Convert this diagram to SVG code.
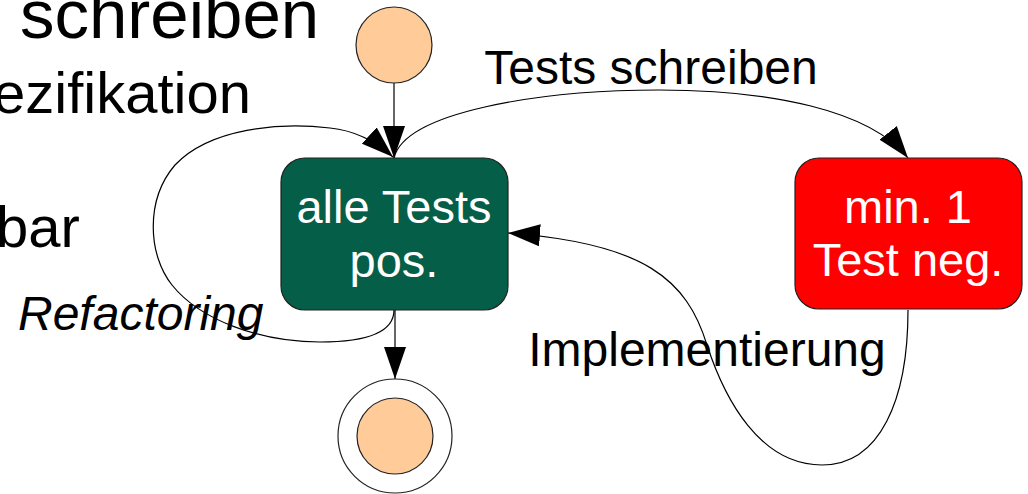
<svg xmlns="http://www.w3.org/2000/svg" width="1028" height="494" viewBox="0 0 1028 494">
  <style>
    .bg { font-family: "Liberation Sans", Arial, sans-serif; fill: #000; }
    .lbl { font-family: "Liberation Sans", Arial, sans-serif; font-size: 48px; fill: #000; }
    .state-text { font-family: "Liberation Sans", Arial, sans-serif; font-size: 47px; fill: #fff; text-anchor: middle; }
    .edge { fill: none; stroke: #000; stroke-width: 1.2; }
    .state { stroke: #222; stroke-width: 1.2; }
    .pseudo { fill: #ffcc99; stroke: #222; stroke-width: 1.2; }
  </style>
  <defs>
    <marker id="arrow" viewBox="0 0 32 22" refX="32" refY="11" markerWidth="32" markerHeight="22" markerUnits="userSpaceOnUse" orient="auto">
      <path d="M0,0 L32,11 L0,22 Z" fill="#000"/>
    </marker>
  </defs>

  <rect width="1028" height="494" fill="#fff"/>

  <!-- slide text behind the state chart -->
  <g id="slide-text" class="bg">
    <text x="20" y="38" font-size="69">schreiben</text>
    <text x="251" y="113" font-size="58" text-anchor="end">ezifikation</text>
    <text x="-4" y="247" font-size="58">bar</text>
  </g>

  <!-- transitions -->
  <g id="connectors">
    <path class="edge" d="M394,83 L394,158" marker-end="url(#arrow)" stroke="#444"/>
    <path class="edge" d="M395,310 L395,379" marker-end="url(#arrow)"/>
    <path class="edge" d="M394,310 C394,335 360,342 320,342 C260,342 200,320 172,285 C148,255 145,200 175,165 C210,128 280,122 330,128 C350,130 372,138 393,157" marker-end="url(#arrow)"/>
    <path class="edge" d="M394,158 C405,112 540,90 659,90 C770,90 870,110 908,158" marker-end="url(#arrow)"/>
    <path class="edge" d="M908,310 C908,400 880,465 822,465 C760,465 725,400 707,345 C687,280 645,243 508,233" marker-end="url(#arrow)"/>
    <text class="lbl" x="651" y="84" text-anchor="middle">Tests schreiben</text>
    <text class="lbl" x="707" y="366" text-anchor="middle">Implementierung</text>
    <text class="lbl" x="18" y="330" font-style="italic">Refactoring</text>
  </g>

  <!-- initial pseudo-state -->
  <g id="start">
    <circle class="pseudo" cx="394" cy="45" r="38"/>
  </g>

  <!-- all tests passing -->
  <g id="green">
    <rect class="state" x="281" y="158" width="227" height="152" rx="24" fill="#045e48"/>
    <text class="state-text" x="394" y="223">alle Tests</text>
    <text class="state-text" x="394" y="277">pos.</text>
  </g>

  <!-- at least one failing test -->
  <g id="red">
    <rect class="state" x="795" y="158" width="227" height="151" rx="24" fill="#ff0000"/>
    <text class="state-text" x="908" y="223">min. 1</text>
    <text class="state-text" x="908" y="276">Test neg.</text>
  </g>

  <!-- final pseudo-state -->
  <g id="end">
    <circle cx="395" cy="436" r="57" fill="#fff" stroke="#222" stroke-width="1.2"/>
    <circle class="pseudo" cx="395" cy="436" r="38"/>
  </g>
</svg>
